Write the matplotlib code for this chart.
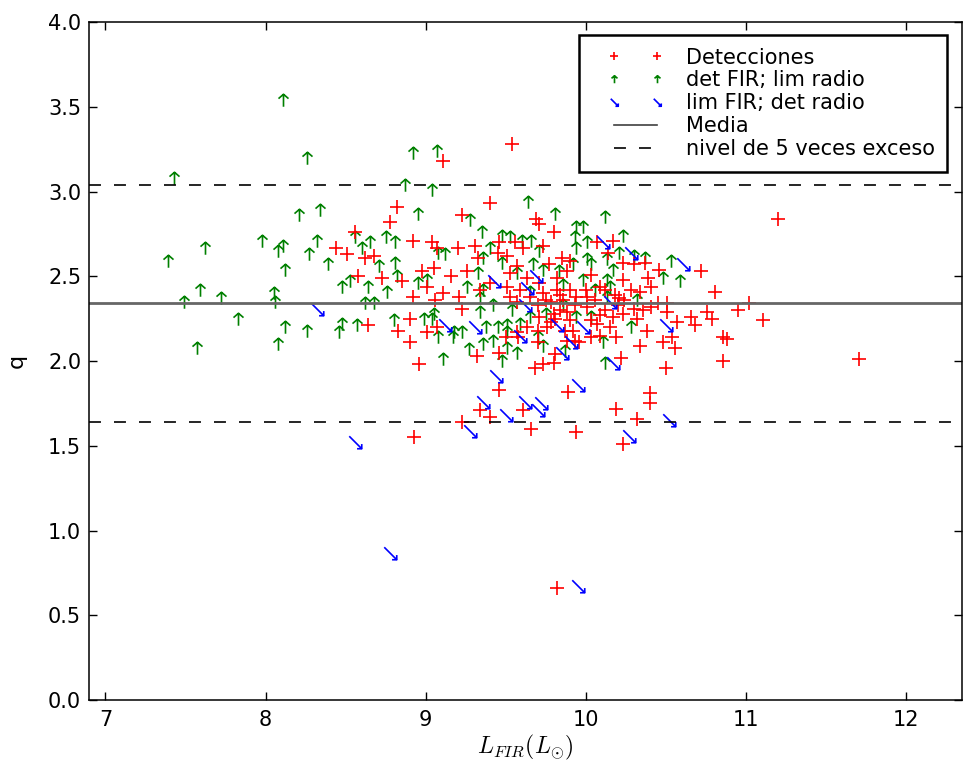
import matplotlib
matplotlib.use("Agg")
import matplotlib.pyplot as plt
from matplotlib.path import Path
from matplotlib.lines import Line2D
from matplotlib.legend_handler import HandlerLine2D

# detecciones en FIR y radio
det_x = [9.11, 8.82, 8.78, 8.56, 8.44, 8.51, 8.62, 8.68, 8.92, 9.04, 9.07, 8.58, 8.73, 8.85,
         8.98, 9.05, 9.01, 8.92, 9.11, 9.06, 8.64, 8.90, 8.83, 9.01, 9.07, 8.90, 8.96, 9.54,
         8.93, 9.82, 9.40, 9.23, 9.69, 9.80, 9.71, 9.20, 9.31, 9.46, 9.56, 9.73, 9.61, 9.45,
         9.33, 9.51, 9.85, 9.26, 9.16, 9.57, 9.77, 9.90, 9.53, 9.63, 9.71, 9.82, 9.88, 9.21,
         9.34, 9.40, 9.51, 9.59, 9.65, 9.73, 9.82, 9.90, 9.23, 9.53, 9.57, 9.70, 9.78, 9.86,
         9.94, 9.71, 9.80, 9.88, 9.63, 9.70, 9.76, 9.92, 9.57, 9.32, 9.46, 9.50, 9.58, 9.68,
         9.73, 9.80, 9.81, 9.70, 9.88, 9.93, 9.46, 9.34, 9.40, 9.61, 9.23, 9.66, 9.89, 9.94,
         10.03, 10.19, 10.34, 10.48, 10.56, 10.54, 10.86, 10.22, 10.50, 10.86, 10.40, 10.40,
         10.19, 10.32, 10.23, 10.17, 10.07, 10.14, 10.23, 10.30, 10.37, 10.46, 10.72, 10.81,
         10.39, 10.41, 10.23, 10.28, 10.34, 10.03, 10.09, 10.21, 10.45, 10.51, 10.51, 10.41,
         10.36, 10.30, 10.23, 10.17, 10.09, 10.01, 10.32, 10.57, 10.66, 10.76, 10.79, 10.68,
         10.38, 10.15, 10.07, 10.01, 10.20, 11.20, 11.02, 10.95, 11.11, 10.88, 11.71, 9.84,
         9.93, 10.00, 10.06, 10.12, 10.18, 10.24, 9.90, 10.03, 10.12, 9.78, 9.84, 9.75, 9.81,
         10.09, 9.96, 9.87]
det_q = [3.18, 2.91, 2.82, 2.76, 2.67, 2.63, 2.61, 2.62, 2.71, 2.70, 2.67, 2.50, 2.49, 2.47,
         2.53, 2.55, 2.44, 2.38, 2.40, 2.36, 2.21, 2.25, 2.18, 2.17, 2.20, 2.11, 1.98, 3.28,
         1.55, 0.66, 2.93, 2.86, 2.84, 2.76, 2.81, 2.67, 2.68, 2.70, 2.70, 2.68, 2.67, 2.64,
         2.61, 2.62, 2.61, 2.53, 2.50, 2.56, 2.57, 2.59, 2.52, 2.49, 2.46, 2.49, 2.53, 2.38,
         2.42, 2.46, 2.44, 2.42, 2.38, 2.40, 2.42, 2.42, 2.31, 2.38, 2.35, 2.33, 2.35, 2.36,
         2.38, 2.26, 2.28, 2.29, 2.20, 2.18, 2.20, 2.18, 2.17, 2.03, 2.05, 2.14, 2.14, 1.96,
         1.98, 1.99, 2.04, 2.11, 2.12, 2.12, 1.83, 1.71, 1.67, 1.71, 1.64, 1.60, 1.82, 1.58,
         2.14, 2.14, 2.09, 2.11, 2.08, 2.14, 2.14, 2.02, 1.96, 2.00, 1.81, 1.75,
         1.72, 1.66, 1.51, 2.71, 2.70, 2.64, 2.58, 2.57, 2.58, 2.54, 2.53, 2.41,
         2.49, 2.44, 2.48, 2.42, 2.41, 2.51, 2.44, 2.37, 2.34, 2.34, 2.29, 2.32,
         2.30, 2.31, 2.28, 2.26, 2.27, 2.32, 2.25, 2.23, 2.26, 2.29, 2.25, 2.21,
         2.18, 2.20, 2.22, 2.38, 2.33, 2.84, 2.34, 2.30, 2.24, 2.13, 2.01, 2.39,
         2.33, 2.42, 2.36, 2.30, 2.39, 2.36, 2.24, 2.24, 2.42, 2.23, 2.30, 2.36, 2.25,
         2.15, 2.11, 2.18]

# detectadas en FIR, limite en radio
fir_x = [8.26, 8.92, 9.07, 7.43, 8.87, 9.04, 8.21, 8.34, 8.95, 7.62, 7.39, 7.98, 8.11, 8.08,
         8.32, 8.12, 8.27, 8.39, 8.56, 8.65, 8.75, 8.81, 8.60, 8.71, 8.81, 8.82, 8.53, 8.48,
         8.64, 8.76, 8.95, 9.01, 7.59, 7.49, 7.72, 8.05, 8.06, 7.83, 8.62, 8.68, 7.57, 8.12,
         8.26, 8.08, 8.48, 8.46, 8.57, 8.80, 8.99, 9.11, 8.11, 9.64, 9.81, 9.28, 9.94, 9.35,
         9.53, 9.60, 9.66, 9.48, 9.93, 9.40, 9.12, 9.08, 9.71, 9.94, 9.36, 9.48, 9.67, 9.92,
         9.33, 9.57, 9.73, 9.83, 9.26, 9.36, 9.34, 9.65, 9.86, 9.05, 9.34, 9.42, 9.54, 9.65,
         9.75, 9.86, 9.94, 9.04, 9.18, 9.23, 9.38, 9.45, 9.51, 9.59, 9.51, 9.27, 9.36, 9.48,
         9.51, 9.57, 9.17, 9.08, 9.42, 9.73, 9.70, 9.87, 10.12, 10.23, 10.01, 9.98, 10.21,
         10.13, 10.01, 10.37, 10.30, 10.53, 10.48, 10.59, 10.17, 10.03, 10.13, 10.06, 10.15,
         9.98, 10.32, 10.13, 10.03, 10.28, 10.11, 10.12]
fir_q = [3.20, 3.23, 3.24, 3.08, 3.04, 3.01, 2.86, 2.89, 2.87, 2.67, 2.59, 2.71, 2.68, 2.65,
         2.71, 2.54, 2.63, 2.57, 2.73, 2.70, 2.73, 2.70, 2.67, 2.56, 2.58, 2.50, 2.47, 2.44,
         2.44, 2.41, 2.46, 2.48, 2.42, 2.35, 2.37, 2.40, 2.35, 2.25, 2.34, 2.34, 2.08, 2.20,
         2.18, 2.10, 2.22, 2.17, 2.21, 2.24, 2.25, 2.01, 3.54, 2.94, 2.87, 2.83, 2.79, 2.76,
         2.73, 2.71, 2.71, 2.74, 2.73, 2.67, 2.63, 2.64, 2.65, 2.67, 2.61, 2.58, 2.57, 2.57,
         2.52, 2.52, 2.54, 2.53, 2.44, 2.42, 2.37, 2.41, 2.45, 2.28, 2.29, 2.33, 2.30, 2.26,
         2.28, 2.33, 2.26, 2.25, 2.17, 2.17, 2.20, 2.20, 2.21, 2.22, 2.17, 2.07, 2.10, 2.00,
         2.08, 2.05, 2.14, 2.14, 2.12, 2.09, 2.14, 2.06, 2.85, 2.74, 2.70, 2.79, 2.64,
         2.60, 2.60, 2.61, 2.62, 2.59, 2.49, 2.47, 2.54, 2.57, 2.48, 2.42, 2.44,
         2.48, 2.36, 2.38, 2.26, 2.20, 2.11, 1.99]

# limite en FIR, detectadas en radio
rad_x = [8.32, 8.56, 8.78, 9.95, 9.44, 9.36, 9.50, 9.28, 9.62, 9.72, 9.70, 9.85, 9.95, 9.91,
         10.17, 10.52, 10.27, 9.43, 9.69, 9.63, 9.62, 9.12, 9.31, 9.82, 9.59, 10.11, 10.28,
         10.61, 10.50, 10.15, 9.98]
rad_q = [2.31, 1.52, 0.87, 0.67, 1.91, 1.76, 1.68, 1.59, 1.76, 1.75, 1.71, 2.05, 1.86, 2.11,
         1.99, 1.65, 1.56, 2.47, 2.50, 2.43, 2.33, 2.21, 2.20, 2.21, 2.15, 2.70, 2.64,
         2.57, 2.21, 2.35, 2.20]

q_media = 2.34
q_exceso = 0.70  # log10(5)

x_ticks = [7, 8, 9, 10, 11, 12]
y_ticks = [0.0, 0.5, 1.0, 1.5, 2.0, 2.5, 3.0, 3.5, 4.0]

M, L = Path.MOVETO, Path.LINETO
flecha_arriba = Path([(0, -1), (0, 1), (-0.8, 0.3), (0, 1), (0.8, 0.3)], [M, L, M, L, L])
flecha_abajo = Path([(-1, 1), (1, -1), (0.25, -1), (1, -1), (1, -0.25)], [M, L, M, L, L])

plt.rcParams["mathtext.fontset"] = "cm"
plt.rcParams["lines.scale_dashes"] = False

fig = plt.figure(figsize=(9.63, 7.72), dpi=100)
ax = fig.add_axes([0.0929, 0.0933, 0.906, 0.878])

h_fir, = ax.plot(fir_x, fir_q, ls="none", marker=flecha_arriba, ms=9, mfc="none",
                 mec="g", mew=1.2, label="det FIR; lim radio")
h_det, = ax.plot(det_x, det_q, ls="none", marker="+", ms=10, mec="r", mew=1.2,
                 label="Detecciones")
h_rad, = ax.plot(rad_x, rad_q, ls="none", marker=flecha_abajo, ms=9, mfc="none",
                 mec="b", mew=1.2, label="lim FIR; det radio")

h_med = ax.axhline(q_media, color="0.4", lw=2.0, label="Media")
h_exc = ax.axhline(q_media + q_exceso, color="k", lw=1.2, dashes=(8.6, 9.4),
                   label="nivel de 5 veces exceso")
ax.axhline(q_media - q_exceso, color="k", lw=1.2, dashes=(8.6, 9.4))

ax.set_xlim(6.9, 12.35)
ax.set_ylim(0, 4.0)
ax.set_xticks(x_ticks)
ax.set_yticks(y_ticks)
ax.set_yticklabels(["%.1f" % v for v in y_ticks])
ax.tick_params(direction="in", top=True, right=True, length=6, width=1, labelsize=15)
ax.tick_params(axis="x", pad=7)
ax.tick_params(axis="y", pad=6)
for sp in ax.spines.values():
    sp.set_linewidth(1.1)

ax.set_xlabel(r"$L_{FIR}(L_{\odot})$", fontsize=17, labelpad=2)
ax.set_ylabel("q", fontsize=16, labelpad=15)

leg = ax.legend([h_det, h_fir, h_rad, h_med, h_exc],
                ["Detecciones", "det FIR; lim radio", "lim FIR; det radio", "Media",
                 "nivel de 5 veces exceso"],
                loc="upper right", bbox_to_anchor=(0.983, 0.981), borderaxespad=0,
                handler_map={Line2D: HandlerLine2D(marker_pad=1.08, numpoints=2)},
                markerscale=0.6, fontsize=15, fancybox=False,
                framealpha=1, edgecolor="k", handlelength=4.2, handletextpad=0.3,
                labelspacing=0.14, borderpad=0.6)
leg.get_frame().set_linewidth(1.8)
leg.get_lines()[3].set_color("0.25")
leg.get_lines()[3].set_linewidth(1.2)

fig.savefig("out.png", dpi=100)
